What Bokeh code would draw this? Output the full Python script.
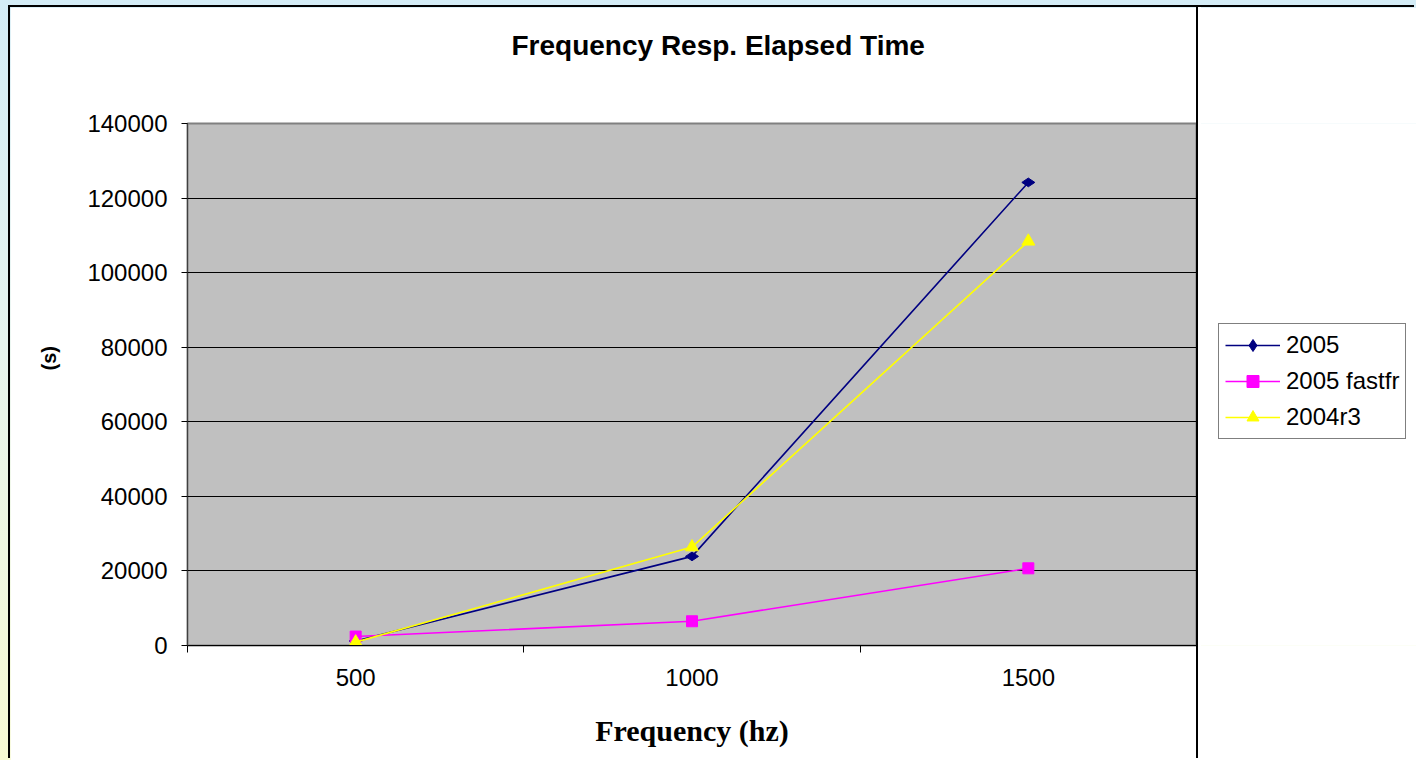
import math
from bokeh.plotting import figure
from bokeh.models import (Range1d, FixedTicker, BasicTickFormatter, Title,
                          Legend, LegendItem, ColumnDataSource)
from bokeh.layouts import column, row
from bokeh.embed import file_html
from bokeh.resources import INLINE

# Frequency categories and elapsed times (seconds)
frequencies = ["500", "1000", "1500"]
elapsed_2005 = [1200, 23900, 124200]
elapsed_2005_fastfr = [2400, 6500, 20700]
elapsed_2004r3 = [900, 26400, 108400]
y_ticks = [0, 20000, 40000, 60000, 80000, 100000, 120000, 140000]

positions = list(range(1, len(frequencies) + 1))
boundaries = [i + 0.5 for i in range(0, len(frequencies) + 1)]

p = figure(width=1188, height=753, title=None,
           output_backend="svg", toolbar_location=None,
           x_range=Range1d(0.5, len(frequencies) + 0.5),
           y_range=Range1d(y_ticks[0], y_ticks[-1]),
           min_border_left=176, min_border_right=2, min_border_top=116,
           min_border_bottom=115,
           margin=(7, 0, 0, 10),
           styles={"box-shadow": "-2px -2px 0 0 #000000, 3px 0 0 0 #FFFFFF"})
p.background_fill_color = "#C0C0C0"
p.border_fill_color = "#FFFFFF"
p.outline_line_color = "#808080"
p.outline_line_width = 2

# Chart title, lifted away from the plot area by a blank spacer title
p.add_layout(Title(text=" ", text_font_size="1px", standoff=60), "above")
p.add_layout(Title(text="Frequency Resp. Elapsed Time", align="left",
                   offset=324, standoff=0, text_font="Liberation Sans",
                   text_font_style="bold", text_font_size="28px",
                   text_color="#000000"), "above")

# Axes
xa = p.xaxis[0]
xa.ticker = FixedTicker(ticks=positions, minor_ticks=boundaries)
xa.major_label_overrides = {pos: f for pos, f in zip(positions, frequencies)}
xa.major_tick_out = 0
xa.major_tick_in = 0
xa.minor_tick_out = 7
xa.minor_tick_in = 0
xa.minor_tick_line_color = "#000000"
xa.axis_line_color = "#000000"
xa.major_label_text_font = "Liberation Sans"
xa.major_label_text_font_size = "24px"
xa.major_label_text_color = "#000000"
xa.major_label_standoff = 16
xa.axis_label = "Frequency (hz)"
xa.axis_label_text_font = "Liberation Serif"
xa.axis_label_text_font_style = "bold"
xa.axis_label_text_font_size = "30px"
xa.axis_label_text_color = "#000000"
xa.axis_label_standoff = 25

ya = p.yaxis[0]
ya.ticker = FixedTicker(ticks=y_ticks)
ya.formatter = BasicTickFormatter(use_scientific=False)
ya.major_tick_out = 6
ya.major_tick_in = 0
ya.minor_tick_out = 0
ya.minor_tick_in = 0
ya.axis_line_color = "#404040"
ya.major_label_text_font = "Liberation Sans"
ya.major_label_text_font_size = "24px"
ya.major_label_text_color = "#000000"
ya.major_label_standoff = 14

p.add_layout(Title(text="(s)", align="left", offset=275, standoff=50,
                   text_font="Liberation Sans", text_font_style="bold",
                   text_font_size="20px", text_color="#000000"), "left")

p.xgrid.grid_line_color = None
p.ygrid.grid_line_color = "#000000"
p.ygrid.grid_line_width = 1
p.ygrid.ticker = FixedTicker(ticks=y_ticks)

# Legend panel to the right of the plot area
lf = figure(width=218, height=753, output_backend="svg", toolbar_location=None,
            x_axis_location=None, y_axis_location=None,
            x_range=Range1d(0.5, len(frequencies) + 0.5),
            y_range=Range1d(-2 * y_ticks[-1], -y_ticks[-1]),
            min_border=0, margin=(7, 0, 0, 0),
            styles={"box-shadow": "-2px -2px 0 0 #000000"})
lf.background_fill_color = "#FFFFFF"
lf.border_fill_color = "#FFFFFF"
lf.outline_line_color = None
lf.xgrid.grid_line_color = None
lf.ygrid.grid_line_color = None

# Series
series = [
    ("2005", elapsed_2005, "#000080", "diamond", 13, math.pi / 2),
    ("2005 fastfr", elapsed_2005_fastfr, "#FF00FF", "square", 11, 0),
    ("2004r3", elapsed_2004r3, "#FFFF00", "triangle", 13, 0),
]
items = []
for name, vals, color, marker, size, angle in series:
    src = ColumnDataSource(dict(x=positions, y=vals))
    p.line("x", "y", source=src, line_color=color, line_width=1.6)
    p.scatter("x", "y", source=src, marker=marker, size=size, angle=angle,
              fill_color=color, line_color=color)
    ln = lf.line("x", "y", source=src, line_color=color, line_width=1.6)
    sc = lf.scatter("x", "y", source=src, marker=marker, size=size,
                    fill_color=color, line_color=color)
    items.append(LegendItem(label=name, renderers=[ln, sc]))

legend = Legend(items=items, location=(20, 206),
                border_line_color="#000000", border_line_width=1,
                background_fill_color="#FFFFFF", background_fill_alpha=1.0,
                label_text_font="Liberation Sans", label_text_font_size="24px",
                label_text_color="#000000",
                glyph_width=55, glyph_height=30, label_height=28,
                label_standoff=6, spacing=6, padding=6, margin=0)
lf.add_layout(legend, "center")

page = column(row(p, lf), width=1416, height=760,
              styles={"overflow": "hidden",
                      "background": "linear-gradient(180deg, #D3ECF6 0%, #E6F4EE 45%, #F7FAD3 100%)"})

open("out.html", "w").write(file_html(page, INLINE))
